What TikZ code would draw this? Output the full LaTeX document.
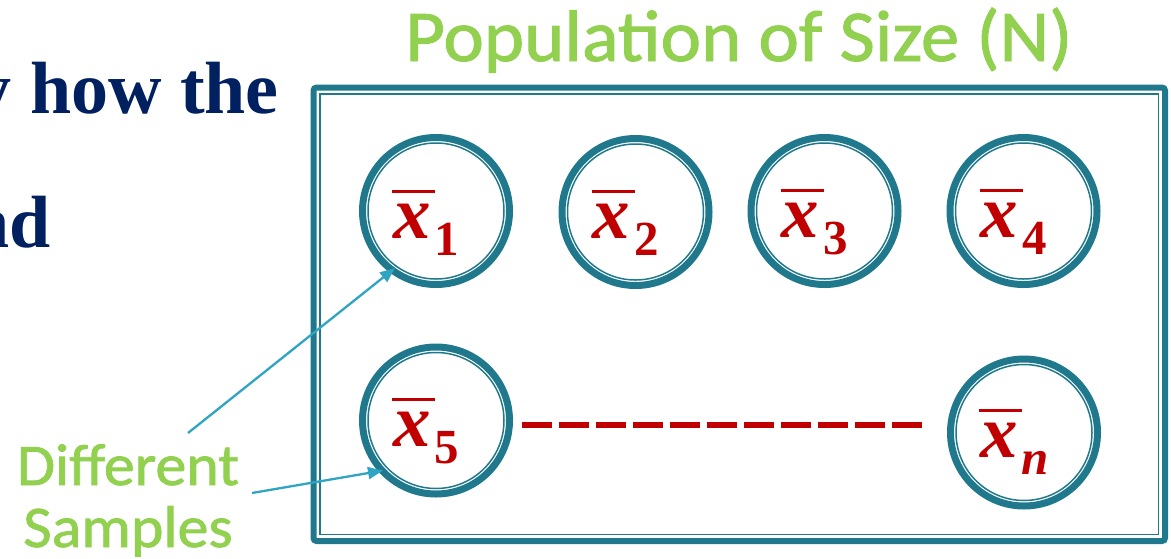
\documentclass[tikz,border=0pt]{standalone}
\usepackage{fontspec}
\setmainfont{Liberation Serif}
\newfontfamily\greenfont[FakeStretch=1.05,FakeBold=1.3]{Carlito}
\usetikzlibrary{calc,arrows.meta}
\definecolor{ring}{HTML}{1F788B}
\definecolor{xred}{HTML}{C00000}
\definecolor{lgreen}{HTML}{92D050}
\definecolor{navy}{HTML}{002060}
\definecolor{arrowc}{HTML}{2FA4C3}
\newcommand{\xbarsub}[2]{\rlap{\hspace{-1pt}\rule[45.5pt]{43pt}{3pt}}{\fontsize{75}{75}\selectfont\bfseries\itshape x}\hspace{4pt}\raisebox{-17pt}{\fontsize{49}{49}\selectfont\bfseries#1#2}}
\tikzset{
  sample/.style={circle, draw=ring, line width=7pt, minimum size=147pt, inner sep=0pt},
  innerring/.style={draw=ring, line width=1.5pt},
  xlabel/.style={anchor=base west, text=xred, inner sep=0pt},
  dashline/.style={draw=xred, line width=5.3pt, dash pattern=on 30pt off 7pt},
  pointer/.style={draw=arrowc, line width=2.3pt, -{Triangle[length=15pt,width=12pt]}},
  greentext/.style={text=lgreen, inner sep=0pt},
  bigtitle/.style={text=navy, inner sep=0pt, font=\fontsize{74}{80}\selectfont\bfseries}
}
\begin{document}
\begin{tikzpicture}[x=1pt,y=-1pt]
\useasboundingbox (0,0) rectangle (1171,558);
\clip (0,0) rectangle (1171,558);
% left cut-off text
\node[bigtitle, anchor=base east] (t1) at (279,113) {y how the};
\node[bigtitle, anchor=base east] (t2) at (51,247) {nd};
% title
\node[greentext, anchor=base, font=\greenfont\fontsize{73}{80}\selectfont] (title) at (739,61) {Population of Size (N)};
% population box
\draw[ring, line width=6pt, rounded corners=3pt] (313.5,87.5) rectangle (1165,541);
\draw[ring, line width=1.5pt] (320,94) rectangle (1158.5,534.5);
% samples
\node[sample] (c1) at (436,211) {};
\node[sample] (c2) at (635.5,212) {};
\node[sample] (c3) at (824.5,211) {};
\node[sample] (c4) at (1023.5,211) {};
\node[sample] (c5) at (436,420.5) {};
\node[sample] (cn) at (1024,432.5) {};
\foreach \n in {c1,c2,c3,c4,c5,cn}{\draw[innerring] (\n) circle[radius=68];}
\node[xlabel] (l1) at ($(c1)+(-43,27)$) {\xbarsub{\upshape}{1}};
\node[xlabel] (l2) at ($(c2)+(-43,26)$) {\xbarsub{\upshape}{2}};
\node[xlabel] (l3) at ($(c3)+(-43,26)$) {\xbarsub{\upshape}{3}};
\node[xlabel] (l4) at ($(c4)+(-43,26)$) {\xbarsub{\upshape}{4}};
\node[xlabel] (l5) at ($(c5)+(-43,26)$) {\xbarsub{\upshape}{5}};
\node[xlabel] (ln) at ($(cn)+(-44,25)$) {\xbarsub{\itshape}{n}};
% dashed line
\draw[dashline] ($(c5.east)+(9,4.5)$) -- ($(cn.west)+(-25,-7.5)$);
% different samples
\node[greentext, align=center, anchor=base, font=\greenfont\fontsize{59}{62}\selectfont] (ds) at (128,547) {Different\\Samples};
\coordinate (a1) at (188,433);
\coordinate (a2) at (252,493);
\draw[pointer] (a1) -- ($(c1)+(-41,57)$);
\draw[pointer] (a2) -- ($(c5)+(-53,50)$);
\end{tikzpicture}
\end{document}
